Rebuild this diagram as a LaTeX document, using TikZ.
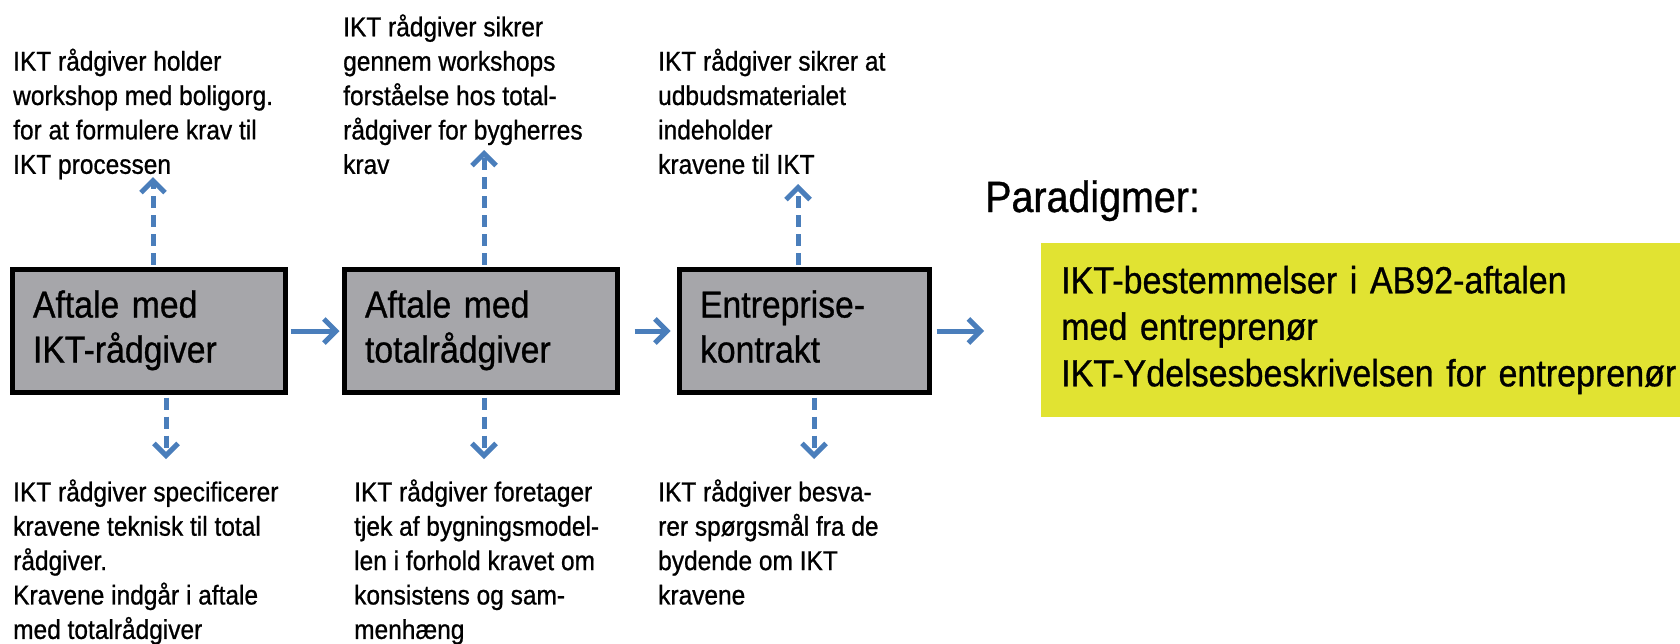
\documentclass[tikz,border=0pt]{standalone}
\usepackage{fontspec}
\setmainfont{Liberation Sans}[FakeStretch=0.9, FakeBold=0.8]
\usetikzlibrary{arrows.meta}

\definecolor{flowblue}{RGB}{74,126,187}
\definecolor{stagegray}{RGB}{166,166,170}
\definecolor{hilite}{RGB}{225,227,50}

% font sizes (1pt = 1 unit of the drawing grid)
\newcommand\fnote{\fontsize{27.2}{34.4}\selectfont}
\newcommand\fstage{\fontsize{37.5}{45}\selectfont}
\newcommand\fhead{\fontsize{43.8}{50}\selectfont}
\newcommand\fpara{\fontsize{37.8}{46.5}\selectfont}

\begin{document}
\begin{tikzpicture}[x=1pt,y=-1pt,
  stage/.style={draw=black, line width=5pt, fill=stagegray, font=\fstage,
    align=left, inner xsep=20.5pt, inner ysep=0pt, minimum height=123pt},
  note/.style={font=\fnote, align=left, inner sep=0pt, anchor=north west},
  flow/.style={draw=flowblue, line width=5pt,
    -{Straight Barb[length=12pt,width=24pt]}},
  dflow/.style={flow, dash pattern=on 12pt off 7pt},
]
\useasboundingbox (0,0) rectangle (1680,643);

% process stages
\node[stage, text width=232pt] (b1) at (149,331) {\strut Aftale med\\\strut IKT-rådgiver};
\node[stage, text width=232pt] (b2) at (481,331) {\strut Aftale med\\\strut totalrådgiver};
\node[stage, text width=209pt] (b3) at (804.5,331) {\strut Entreprise-\\\strut kontrakt};

% notes above the stages
\node[note] (t1) at (13,46.3) {\strut IKT rådgiver holder\\workshop med boligorg.\\for at formulere krav til\\IKT processen};
\node[note] (t2) at (343,12) {\strut IKT rådgiver sikrer\\gennem workshops\\forståelse hos total-\\rådgiver for bygherres\\krav};
\node[note] (t3) at (658,46.3) {\strut IKT rådgiver sikrer at\\udbudsmaterialet\\indeholder\\kravene til IKT};

% notes below the stages
\node[note] (u1) at (13,477) {\strut IKT rådgiver specificerer\\kravene teknisk til total\\rådgiver.\\Kravene indgår i aftale\\med totalrådgiver};
\node[note] (u2) at (354,477) {\strut IKT rådgiver foretager\\tjek af bygningsmodel-\\len i forhold kravet om\\konsistens og sam-\\menhæng};
\node[note] (u3) at (658,477) {\strut IKT rådgiver besva-\\rer spørgsmål fra de\\bydende om IKT\\kravene};

% result
\node[font=\fhead, anchor=base west, inner sep=0pt] (ph) at (985,212) {Paradigmer:};
\node[fill=hilite, font=\fpara, align=left, text width=640pt, inner xsep=20pt,
      minimum height=174pt, anchor=west] (hl) at (1041,330)
  {IKT-bestemmelser i AB92-aftalen\\med entreprenør\\IKT-Ydelsesbeskrivelsen for entreprenør};

% main flow
\coordinate (r3) at (984,331);
\draw[flow, shorten <=2.5pt, shorten >=2.5pt] (b1.east) -- (b2.west);
\draw[flow, shorten <=14.5pt, shorten >=6.5pt] (b2.east) -- (b3.west);
\draw[flow, shorten <=4.5pt] (b3.east) -- (r3);

% dashed links to the notes
\coordinate (p1) at (153,177);
\coordinate (p2) at (484,150);
\coordinate (p3) at (798,184);
\coordinate (q1) at (166,459);
\coordinate (q2) at (484,459);
\coordinate (q3) at (814,459);
\draw[dflow, shorten <=2.5pt] (b1.north -| p1) -- (p1);
\draw[dflow, shorten <=2.5pt] (b2.north -| p2) -- (p2);
\draw[dflow, shorten <=2.5pt] (b3.north -| p3) -- (p3);
\draw[dflow, shorten <=2.5pt] (b1.south -| q1) -- (q1);
\draw[dflow, shorten <=2.5pt] (b2.south -| q2) -- (q2);
\draw[dflow, shorten <=2.5pt] (b3.south -| q3) -- (q3);
\end{tikzpicture}
\end{document}
